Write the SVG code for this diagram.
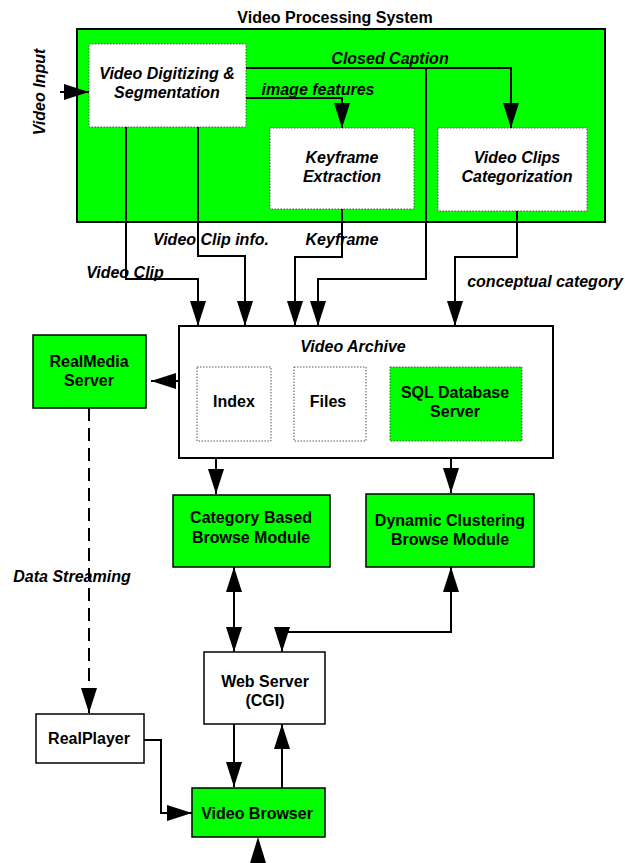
<svg xmlns="http://www.w3.org/2000/svg" width="625" height="863" viewBox="0 0 625 863">
<style>
text{font-family:"Liberation Sans",Arial,sans-serif;font-size:16px;font-weight:bold;fill:#000;text-anchor:middle}
.i{font-style:italic}
.solid{fill:#fff;stroke:#000;stroke-width:1.5}
.green{fill:#00ff00;stroke:#000;stroke-width:1.5}
.dot{fill:#fff;stroke:#555;stroke-width:1;stroke-dasharray:1.5,1.5}
.dotg{fill:#00ff00;stroke:#555;stroke-width:1;stroke-dasharray:1.5,1.5}
.ln{fill:none;stroke:#000;stroke-width:2}
.arr{marker-end:url(#ah)}
.dbl{marker-end:url(#ah);marker-start:url(#ahs)}
</style>
<defs>
<marker id="ah" markerWidth="25" markerHeight="16" refX="25" refY="8" orient="auto" markerUnits="userSpaceOnUse"><path d="M0,0 L25,8 L0,16 z" fill="#000"/></marker>
<marker id="ahs" markerWidth="25" markerHeight="16" refX="25" refY="8" orient="auto-start-reverse" markerUnits="userSpaceOnUse"><path d="M0,0 L25,8 L0,16 z" fill="#000"/></marker>
</defs>
<rect width="625" height="863" fill="#fff"/>

<g id="vps">
<text x="335" y="23">Video Processing System</text>
<rect x="77" y="29" width="528" height="193" fill="#00ff00" stroke="#000" stroke-width="2"/>
</g>
<text class="i" transform="translate(45,92) rotate(-90)">Video Input</text>

<g id="vds">
<rect class="dot" x="89" y="44" width="157" height="83"/>
<text class="i" x="167" y="79">Video Digitizing &amp;</text>
<text class="i" x="167" y="98">Segmentation</text>
</g>
<g id="kfe">
<rect class="dot" x="270" y="128" width="144" height="81"/>
<text class="i" x="342" y="163">Keyframe</text>
<text class="i" x="342" y="182">Extraction</text>
</g>
<g id="vcc">
<rect class="dot" x="438" y="128" width="149" height="83"/>
<text class="i" x="517" y="163">Video Clips</text>
<text class="i" x="517" y="182">Categorization</text>
</g>

<g id="archive">
<rect x="179" y="326" width="374" height="132" fill="#fff" stroke="#000" stroke-width="2"/>
<text class="i" x="353" y="352">Video Archive</text>
</g>
<g id="index">
<rect class="dot" x="197" y="367" width="74" height="74"/>
<text x="234" y="407">Index</text>
</g>
<g id="files">
<rect class="dot" x="294" y="367" width="72" height="74"/>
<text x="328" y="407">Files</text>
</g>
<g id="sql">
<rect class="dotg" x="390" y="367" width="132" height="74"/>
<text x="455" y="398">SQL Database</text>
<text x="455" y="417">Server</text>
</g>
<g id="realmedia">
<rect class="green" x="33" y="335" width="113" height="73"/>
<text x="89" y="367">RealMedia</text>
<text x="89" y="386">Server</text>
</g>
<g id="catbrowse">
<rect class="green" x="173" y="495" width="157" height="72"/>
<text x="251" y="523">Category Based</text>
<text x="251" y="543">Browse Module</text>
</g>
<g id="dynbrowse">
<rect class="green" x="366" y="494" width="168" height="73"/>
<text x="450" y="526">Dynamic Clustering</text>
<text x="450" y="545">Browse Module</text>
</g>
<g id="webserver">
<rect class="solid" x="204" y="652" width="121" height="72"/>
<text x="265" y="687">Web Server</text>
<text x="265" y="706">(CGI)</text>
</g>
<g id="realplayer">
<rect class="solid" x="36" y="714" width="108" height="49"/>
<text x="89" y="744">RealPlayer</text>
</g>
<g id="videobrowser">
<rect class="green" x="192" y="788" width="133" height="49"/>
<text x="257" y="819">Video Browser</text>
</g>

<g id="connectors">
<line class="ln arr" x1="60" y1="92" x2="89" y2="92"/>
<polyline class="ln arr" points="246,68 511,68 511,128"/>
<polyline class="ln arr" points="426,68 426,279 318,279 318,326"/>
<polyline class="ln arr" points="246,98 342,98 342,128"/>
<polyline class="ln arr" points="126,127 126,279 198,279 198,326"/>
<polyline class="ln arr" points="198,127 198,256 245,256 245,326"/>
<polyline class="ln arr" points="342,209 342,257 295,257 295,326"/>
<polyline class="ln arr" points="517,211 517,257 455,257 455,326"/>
<line class="ln arr" x1="179" y1="381" x2="151" y2="381"/>
<line class="ln arr" x1="216" y1="458" x2="216" y2="494"/>
<line class="ln arr" x1="451" y1="458" x2="451" y2="493"/>
<line class="ln dbl" x1="234" y1="567" x2="234" y2="652"/>
<polyline class="ln arr" points="282,632 451,632 451,567"/>
<line class="ln arr" x1="282" y1="631" x2="282" y2="652"/>
<line class="ln arr" x1="234" y1="724" x2="234" y2="787"/>
<line class="ln arr" x1="282" y1="788" x2="282" y2="724"/>
<polyline class="ln arr" points="144,740 161,740 161,813 192,813"/>
<line class="ln arr" x1="89" y1="408" x2="89" y2="713" stroke-dasharray="13,7"/>
<polygon points="258,837 250,863 266,863" fill="#000"/>
<text class="i" x="390" y="64">Closed Caption</text>
<text class="i" x="318" y="95">image features</text>
<text class="i" x="211" y="245">Video Clip info.</text>
<text class="i" x="342" y="245">Keyframe</text>
<text class="i" x="125" y="278">Video Clip</text>
<text class="i" x="545" y="287">conceptual category</text>
<text class="i" x="72" y="582">Data Streaming</text>
</g>
</svg>
